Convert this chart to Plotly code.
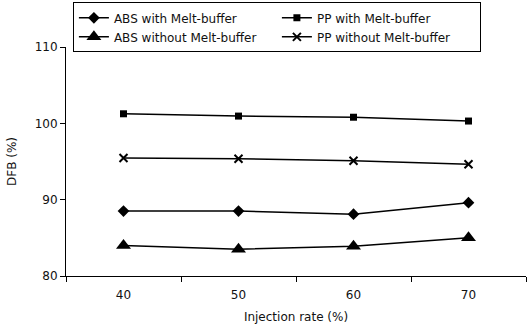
import plotly.graph_objects as go

rates = ["40", "50", "60", "70"]
abs_with = [88.5, 88.5, 88.1, 89.6]
pp_with = [101.25, 100.95, 100.8, 100.3]
abs_without = [84.0, 83.5, 83.9, 85.0]
pp_without = [95.45, 95.35, 95.1, 94.65]
y_ticks = [80, 90, 100, 110]

series = [
    ("ABS with Melt-buffer", abs_with, "diamond", 9),
    ("PP with Melt-buffer", pp_with, "square", 7),
    ("ABS without Melt-buffer", abs_without, "triangle-up", 13),
    ("PP without Melt-buffer", pp_without, "x-thin-open", 8),
]

fig = go.Figure()
for name, vals, sym, size in series:
    fig.add_trace(go.Scatter(
        x=rates, y=vals, name=name, mode="lines+markers",
        line=dict(color="black", width=1.5),
        marker=dict(symbol=sym, size=size, color="black",
                    line=dict(color="black", width=2 if "x" in sym else 0)),
    ))

fig.update_layout(
    width=528, height=328,
    margin=dict(l=66, r=2, t=47, b=52, autoexpand=False),
    paper_bgcolor="white", plot_bgcolor="white",
    font=dict(family="DejaVu Sans, sans-serif", size=12, color="#111"),
    showlegend=True,
    legend=dict(
        orientation="h", x=0.015, y=1.195, xanchor="left", yanchor="top",
        entrywidth=158, entrywidthmode="pixels",
        bordercolor="black", borderwidth=1, bgcolor="white",
        font=dict(size=12), itemwidth=30, tracegroupgap=0,
    ),
    xaxis=dict(
        type="category", range=[-0.5, 3.5], showgrid=False, automargin=False,
        showline=True, linecolor="black", linewidth=1,
        ticks="outside", ticklen=5, tickcolor="black", tickson="boundaries",
        ticklabelstandoff=8,
        title=dict(text="Injection rate (%)", font=dict(size=12), standoff=11),
        tickfont=dict(size=12),
    ),
    yaxis=dict(
        range=[80, 110], tickvals=y_ticks, showgrid=False, zeroline=False,
        automargin=False,
        showline=True, linecolor="black", linewidth=1,
        ticks="outside", ticklen=5, tickcolor="black",
        title=dict(text="DFB (%)", font=dict(size=12), standoff=15),
        tickfont=dict(size=12),
    ),
)

fig.write_html("out.html", config={"displayModeBar": False},
               post_script="document.body.style.margin='0';")
